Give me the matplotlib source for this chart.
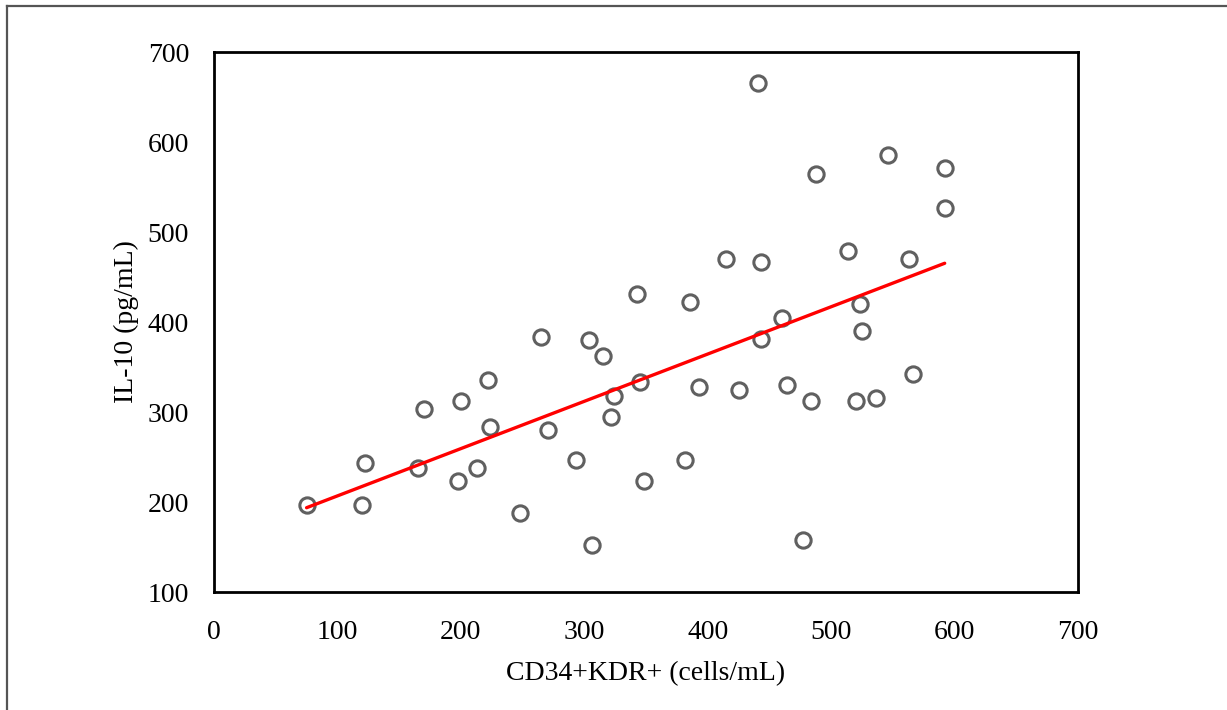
import numpy as np
import matplotlib
matplotlib.use("Agg")
import matplotlib.pyplot as plt
from matplotlib.lines import Line2D

# CD34+KDR+ (cells/mL) vs IL-10 (pg/mL)
cd34 = [75, 120, 122, 165, 170, 198, 200, 213, 222, 224,
        248, 265, 271, 293, 304, 306, 315, 322, 324, 343,
        345, 348, 382, 386, 393, 415, 425, 441, 443, 443,
        460, 464, 477, 484, 488, 514, 520, 523, 525, 536,
        546, 563, 566, 592, 592]
il10 = [197, 197, 243, 238, 303, 223, 312, 238, 336, 283,
        188, 383, 280, 247, 380, 152, 362, 294, 318, 431,
        333, 223, 247, 422, 328, 470, 324, 666, 467, 381,
        404, 330, 158, 312, 564, 479, 312, 420, 390, 316,
        586, 470, 342, 571, 527]

xticks = [0, 100, 200, 300, 400, 500, 600, 700]
yticks = [100, 200, 300, 400, 500, 600, 700]

plt.rcParams['font.family'] = ['Liberation Serif', 'DejaVu Serif']

fig = plt.figure(figsize=(12.27, 7.10), dpi=100)
ax = fig.add_axes([214 / 1227, 1 - 592 / 710, 864 / 1227, 540 / 710])

ax.plot(cd34, il10, linestyle='none', marker='o', markersize=11,
        markerfacecolor='white', markeredgecolor='#606060',
        markeredgewidth=2.2, zorder=3)

# linear trendline
slope, icpt = np.polyfit(cd34, il10, 1)
xs = np.array([min(cd34), max(cd34)])
ax.plot(xs, slope * xs + icpt, color='#ff0000', linewidth=2.4, zorder=4,
        solid_capstyle='round')

ax.set_xlim(0, 700)
ax.set_ylim(100, 700)
ax.set_xticks(xticks)
ax.set_yticks(yticks)
ax.tick_params(length=0, labelsize=20)
ax.tick_params(axis='x', pad=20)
ax.tick_params(axis='y', pad=18)
for s in ax.spines.values():
    s.set_linewidth(2)
    s.set_color('black')

ax.set_xlabel('CD34+KDR+ (cells/mL)', fontsize=20, labelpad=12)
ax.set_ylabel('IL-10 (pg/mL)', fontsize=20, labelpad=6)

# outer frame (only left and top edges show)
fig.add_artist(Line2D([6.5 / 1227, 6.5 / 1227], [0, 1 - 5.5 / 710],
                      color='#555555', linewidth=1.6))
fig.add_artist(Line2D([6.5 / 1227, 1], [1 - 5.5 / 710, 1 - 5.5 / 710],
                      color='#555555', linewidth=1.6))

fig.savefig('out.png', dpi=100)
